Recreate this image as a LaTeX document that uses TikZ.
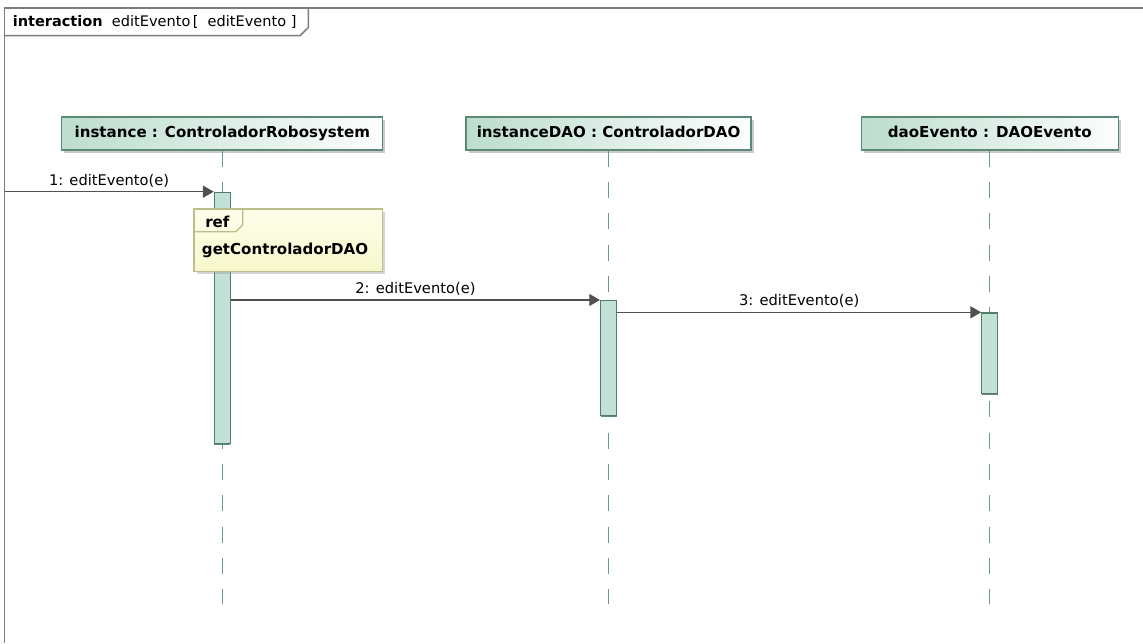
\documentclass[tikz,border=0pt]{standalone}
\usepackage{fontspec}
\setmainfont{DejaVu Sans}
\usetikzlibrary{arrows.meta}
\usetikzlibrary{shadows}
\usetikzlibrary{positioning}

\definecolor{headgreen}{HTML}{BCDDCE}
\definecolor{headline}{HTML}{5A8A74}
\definecolor{barfill}{HTML}{C3E2D5}
\definecolor{barline}{HTML}{4F7F68}
\definecolor{lifegreen}{HTML}{6A9882}
\definecolor{msggrey}{HTML}{505050}
\definecolor{reftop}{HTML}{FFFFEC}
\definecolor{refbottom}{HTML}{F7F7CC}
\definecolor{refline}{HTML}{BDBD8C}
\definecolor{framegrey}{HTML}{7C7C7C}

\tikzset{
  head/.style={draw=headline, line width=1pt, left color=headgreen, right color=white!96!headgreen,
    minimum height=24.75pt, inner sep=0pt, text height=8.6pt, text depth=2.4pt,
    font=\fontsize{11.3}{13}\selectfont\bfseries,
    drop shadow={shadow xshift=2pt, shadow yshift=-2pt, fill=black!45, opacity=0.45}},
  bar/.style={draw=barline, line width=1pt, fill=barfill, minimum width=12pt, inner sep=0pt, anchor=north,
    drop shadow={shadow xshift=0pt, shadow yshift=-1pt, fill=barline, opacity=0.9}},
  lifeline/.style={lifegreen, line width=0.9pt, dash pattern=on 12pt off 11.5pt},
  msg/.style={msggrey, line width=0.8pt, -{Triangle[length=8pt,width=9pt]}},
  msglabel/.style={above, inner sep=3pt, text=black, font=\fontsize{11}{13}\selectfont},
  refbox/.style={draw=refline, line width=0.9pt, top color=reftop, bottom color=refbottom, inner sep=0pt,
    drop shadow={shadow xshift=2pt, shadow yshift=-2pt, fill=black!40, opacity=0.4}},
  frameline/.style={framegrey, line width=1.1pt},
  boldtext/.style={anchor=base west, inner sep=0pt, font=\fontsize{11.3}{13}\selectfont\bfseries}
}

\begin{document}
\begin{tikzpicture}[x=0.75pt,y=-0.75pt]
  \useasboundingbox (0,0) rectangle (1143,643);
  \fill[white] (0,0) rectangle (1143,643);

  % frame
  \draw[frameline] (4.5,643) -- (4.5,8) -- (1143,8);
  \draw[frameline] (4.5,35.7) -- (300,35.7) -- (308.3,27.5) -- (308.3,8);
  \node[anchor=base west, inner sep=0pt, font=\fontsize{10.9}{13}\selectfont] (title) at (12.5,26.5)
    {\textbf{interaction}\ \ editEvento\,[\ \ editEvento ]};

  \node[head, minimum width=240.75pt] (ctrl) at (222.3,133.5) {instance : ControladorRobosystem};
  \node[head, minimum width=213.75pt] (dao) at (608.6,133.5) {instanceDAO : ControladorDAO};
  \node[head, minimum width=192.75pt] (evento) at (989.8,133.5) {daoEvento : DAOEvento};

  \foreach \n in {ctrl,dao,evento}
    \draw[lifeline] (\n.south) -- (\n.south |- 0,604);

  \node[bar, minimum height=188.5pt] (bar1) at (ctrl.south |- 0,191.7) {};
  \node[bar, minimum height=86.25pt] (bar2) at (dao.south |- 0,300) {};
  \node[bar, minimum height=60.3pt] (bar3) at (evento.south |- 0,312.3) {};

  \coordinate (found) at (4.5,191.7);
  \draw[msg] (found) -- (bar1.north west) node[msglabel, midway] {1: editEvento(e)};
  \draw[msg] (bar1.east |- bar2.north) -- (bar2.north west) node[msglabel, midway] {2: editEvento(e)};
  \draw[msg] (bar2.east |- bar3.north) -- (bar3.north west) node[msglabel, midway] {3: editEvento(e)};

  % interaction use
  \node[refbox, minimum width=141.3pt, minimum height=46.8pt, anchor=north west] (ref) at (193.3,208.3) {};
  \draw[refline, line width=0.9pt] (ref.north west) ++(0,23.4) -- ++(42.7,0) -- ++(6.7,-6.7) -- ++(0,-16.7);
  \node[boldtext] (reftag) at (205,227.7) {ref};
  \node[boldtext] (refname) at (201.7,254) {getControladorDAO};
\end{tikzpicture}
\end{document}
